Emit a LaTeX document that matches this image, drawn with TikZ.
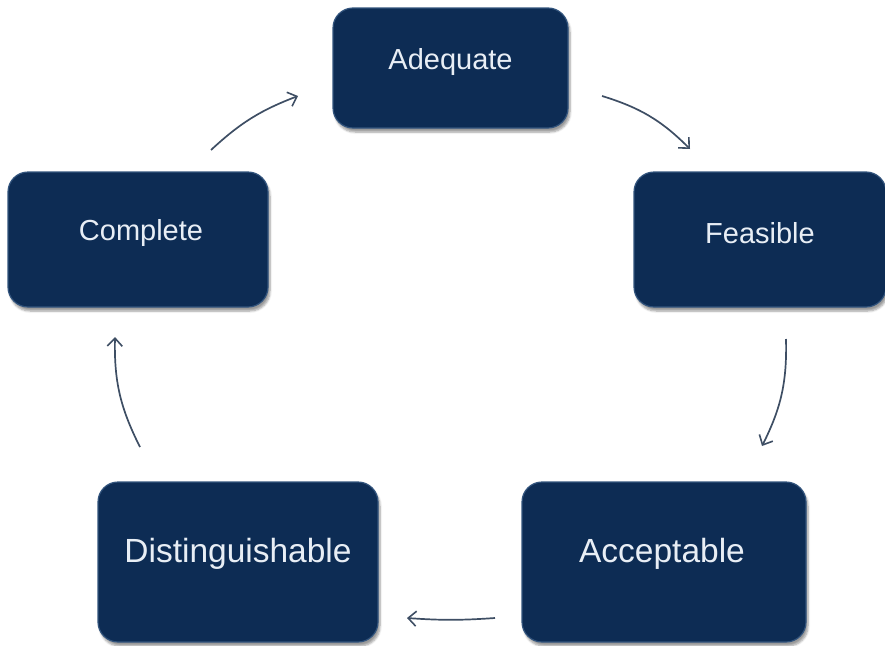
\documentclass[tikz,border=0pt]{standalone}
\usepackage{fontspec}
\setmainfont{Liberation Sans}
\usetikzlibrary{arrows.meta,shadows.blur}
\definecolor{navy}{RGB}{13,44,84}
\definecolor{edgeblue}{RGB}{50,84,125}
\definecolor{txt}{RGB}{232,238,245}
\definecolor{arr}{RGB}{62,78,100}
\tikzset{
  box/.style={rectangle, rounded corners=20pt, fill=navy, draw=edgeblue, line width=1.2pt,
    blur shadow={shadow xshift=2pt, shadow yshift=-4pt, shadow blur steps=6, shadow opacity=40}},
  lbl/.style={text=txt, font=\fontsize{#1}{#1}\selectfont},
  cyc/.style={draw=arr, line width=1.7pt, -{Straight Barb[length=8pt,width=15pt,line width=1.6pt]}, bend left=14}
}
\begin{document}
\begin{tikzpicture}[x=1pt,y=-1pt]
\useasboundingbox (0,0) rectangle (885,645);
% boxes
\node[box, minimum width=235pt, minimum height=120pt] (adq) at (450.5,68) {};
\node[box, minimum width=252pt, minimum height=135pt] (fea) at (760,239.5) {};
\node[box, minimum width=260pt, minimum height=135pt] (com) at (138,239.5) {};
\node[box, minimum width=280pt, minimum height=160pt] (dis) at (238,562) {};
\node[box, minimum width=284pt, minimum height=160pt] (acc) at (664,562) {};
% labels
\node[lbl=29] (tadq) at (450.5,62) {Adequate};
\node[lbl=29] (tfea) at (760,233) {Feasible};
\node[lbl=29] (tcom) at (141,233) {Complete};
\node[lbl=33.5] (tdis) at (238,554) {Distinguishable};
\node[lbl=33.5] (tacc) at (662,554) {Acceptable};
% connector endpoints
\coordinate (a1) at (602,96);  \coordinate (b1) at (690,149);
\coordinate (a2) at (786,339); \coordinate (b2) at (762,446);
\coordinate (a3) at (495,618); \coordinate (b3) at (407,618);
\coordinate (a4) at (140,447); \coordinate (b4) at (115,337);
\coordinate (a5) at (211,150); \coordinate (b5) at (298,96);
\draw[cyc] (a1) to (b1);
\draw[cyc] (a2) to (b2);
\draw[cyc, bend left=4] (a3) to (b3);
\draw[cyc] (a4) to (b4);
\draw[cyc, bend left=11] (a5) to (b5);
\end{tikzpicture}
\end{document}
